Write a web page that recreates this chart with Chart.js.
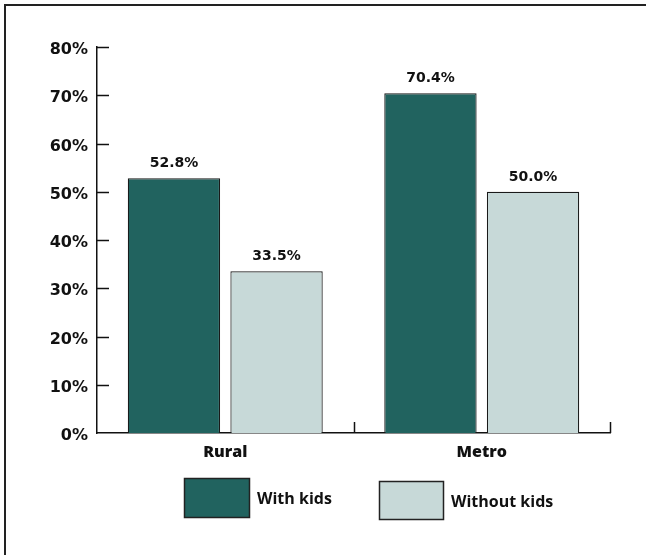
<!DOCTYPE html>
<html>
<head>
<meta charset="utf-8">
<title>Households with and without kids</title>
<script src="https://cdn.jsdelivr.net/npm/chart.js@4/dist/chart.umd.min.js"></script>
<style>
  html, body { margin: 0; padding: 0; background: #fff; }
  #wrap { width: 646px; height: 555px; }
</style>
</head>
<body>
<div id="wrap"><canvas id="kidsChart" width="646" height="555"></canvas></div>
<script>
const categories = ['Rural', 'Metro'];
const withKids = [52.8, 70.4];
const withoutKids = [33.5, 50.0];
const yTicks = [0, 10, 20, 30, 40, 50, 60, 70, 80];

const textFont = '"Open Sans", "Noto Sans", sans-serif';

// frame, inner ticks, value labels and the legend
const extras = {
    id: 'extras',
    beforeDraw(chart) {
        const c = chart.ctx;
        c.save();
        c.strokeStyle = '#222';
        c.lineWidth = 2;
        c.strokeRect(5, 5, 800, 800);
        c.restore();
    },
    afterDraw(chart) {
        const c = chart.ctx;
        const area = chart.chartArea;
        const y = chart.scales.y;
        c.save();
        c.strokeStyle = '#111';
        c.lineWidth = 1.5;
        c.beginPath();
        yTicks.forEach(v => {
            if (v === 0) return;
            const py = Math.round(y.getPixelForValue(v)) + 0.5;
            c.moveTo(area.left, py);
            c.lineTo(area.left + 12, py);
        });
        const step = (area.right - area.left) / categories.length;
        for (let i = 1; i <= categories.length; i++) {
            const px = Math.round(area.left + i * step) + 0.5;
            c.moveTo(px, area.bottom);
            c.lineTo(px, area.bottom - 11);
        }
        c.stroke();

        // value labels above the bars
        c.fillStyle = '#111';
        c.font = 'bold 14px "DejaVu Sans"';
        c.textAlign = 'center';
        c.textBaseline = 'alphabetic';
        chart.data.datasets.forEach((ds, di) => {
            chart.getDatasetMeta(di).data.forEach((bar, i) => {
                c.fillText(ds.data[i].toFixed(1) + '%', bar.x, bar.y - 11);
            });
        });

        // legend
        const boxes = [[184, 478, 65, 39], [379, 481, 64, 38]];
        c.font = 'bold 16px ' + textFont;
        c.textAlign = 'left';
        c.textBaseline = 'middle';
        chart.data.datasets.forEach((ds, di) => {
            const [bx, by, bw, bh] = boxes[di];
            c.fillStyle = ds.backgroundColor;
            c.fillRect(bx, by, bw, bh);
            c.strokeStyle = '#222';
            c.lineWidth = 1.5;
            c.strokeRect(bx + 0.5, by + 0.5, bw, bh);
            c.fillStyle = '#111';
            c.fillText(ds.label, bx + bw + 8, by + bh / 2 + 2);
        });
        c.restore();
    }
};

new Chart(document.getElementById('kidsChart'), {
    type: 'bar',
    data: {
        labels: categories,
        datasets: [
            {
                label: 'With kids',
                data: withKids,
                backgroundColor: '#21635f',
                borderColor: '#1a1a1a',
                borderWidth: 1.2
            },
            {
                label: 'Without kids',
                data: withoutKids,
                backgroundColor: '#c7d9d8',
                borderColor: '#1a1a1a',
                borderWidth: 1.2
            }
        ]
    },
    options: {
        responsive: false,
        animation: false,
        categoryPercentage: 0.8,
        barPercentage: 0.9,
        layout: { padding: { top: 47, right: 36, left: 0, bottom: 0 } },
        plugins: {
            legend: { display: false },
            tooltip: { enabled: false }
        },
        scales: {
            x: {
                afterFit: s => { s.height = 122; },
                grid: { display: false, drawTicks: false },
                border: { display: true, color: '#111', width: 1.5 },
                ticks: {
                    color: '#111',
                    padding: 10,
                    font: { family: textFont, weight: '800', size: 16 }
                }
            },
            y: {
                min: 0,
                max: 80,
                afterFit: s => { s.width = 97; },
                afterBuildTicks: s => { s.ticks = yTicks.map(v => ({ value: v })); },
                grid: { display: false, drawTicks: false },
                border: { display: true, color: '#111', width: 1.5 },
                ticks: {
                    color: '#111',
                    padding: 9,
                    labelOffset: 3,
                    font: { family: 'DejaVu Sans', weight: 'bold', size: 16 },
                    callback: v => v + '%'
                }
            }
        }
    },
    plugins: [extras]
});
</script>
</body>
</html>
